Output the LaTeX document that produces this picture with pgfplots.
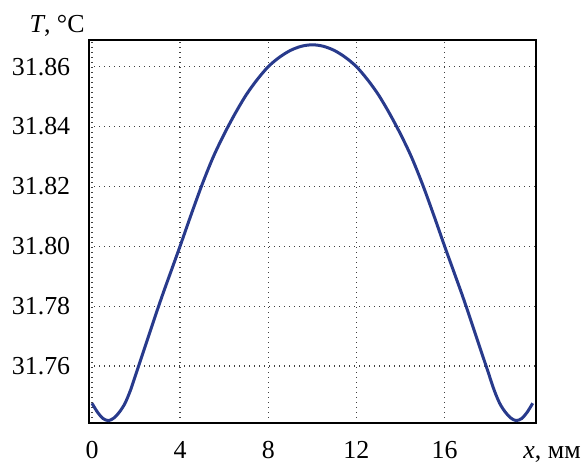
\documentclass[border=0pt]{standalone}
\usepackage{fontspec}
\setmainfont{Liberation Serif}
\usepackage{pgfplots}
\pgfplotsset{compat=1.18}
\definecolor{curveblue}{RGB}{40,58,140}
\begin{document}
\begin{tikzpicture}[font=\fontsize{13}{15}\selectfont]
\begin{axis}[
  at={(0,0)}, anchor=south west,
  width=223.5bp, height=191.5bp, scale only axis,
  xmin=-0.136, xmax=20.15,
  ymin=31.741, ymax=31.8689,
  xtick={0,4,8,12,16},
  ytick={31.76,31.78,31.80,31.82,31.84,31.86},
  major tick length=0pt,
  grid=major,
  major grid style={black!75, line width=0.7bp, dash pattern=on 0.7bp off 1.8bp},
  axis line style={line width=0.8bp, black},
  /pgf/number format/assume math mode=true,
  yticklabel style={/pgf/number format/fixed, /pgf/number format/fixed zerofill, /pgf/number format/precision=2},
  every tick label/.append style={font=\fontsize{13}{15}\selectfont, inner sep=0pt},
  yticklabel style={anchor=east, xshift=-9.2bp},
  xticklabel style={anchor=base, yshift=-18bp},
  clip=false,
]
\addplot[curveblue, line width=1.5bp, smooth] coordinates {
(0,31.7476) (0.25,31.7446) (0.5,31.7425) (0.75,31.7418) (1.0,31.7427)
(1.25,31.7447) (1.5,31.7476) (1.75,31.7520) (2.0,31.7575) (2.25,31.7630)
(2.5,31.7685) (2.75,31.7740) (3.0,31.7795) (3.25,31.7848) (3.5,31.7899)
(3.75,31.7950) (4.0,31.8001) (4.5,31.8106) (5.0,31.8207) (5.5,31.8298)
(6.0,31.8375) (6.5,31.8444) (7.0,31.8506) (7.5,31.8557) (8.0,31.8600)
(8.5,31.8631) (9.0,31.8654) (9.5,31.8668) (10,31.8673)
(10.5,31.8668) (11.0,31.8654) (11.5,31.8631) (12.0,31.8600) (12.5,31.8557)
(13.0,31.8506) (13.5,31.8444) (14.0,31.8375) (14.5,31.8298) (15.0,31.8207)
(15.5,31.8106) (16.0,31.8001) (16.25,31.7950) (16.5,31.7899) (16.75,31.7848)
(17.0,31.7795) (17.25,31.7740) (17.5,31.7685) (17.75,31.7630) (18.0,31.7575)
(18.25,31.7520) (18.5,31.7476) (18.75,31.7447) (19.0,31.7427) (19.25,31.7418)
(19.5,31.7425) (19.75,31.7446) (20,31.7476)
};
\node[anchor=base east, inner sep=0pt] at ([xshift=-2bp, yshift=3.5bp]rel axis cs:0,1) {\textit{T}, °C};
\node[anchor=base west, inner sep=0pt] at ([yshift=-18bp]rel axis cs:0.971,0) {\textit{x}, мм};
\end{axis}
\path[use as bounding box] (-44.5bp,-19bp) rectangle (246bp,211.5bp);
\end{tikzpicture}
\end{document}
